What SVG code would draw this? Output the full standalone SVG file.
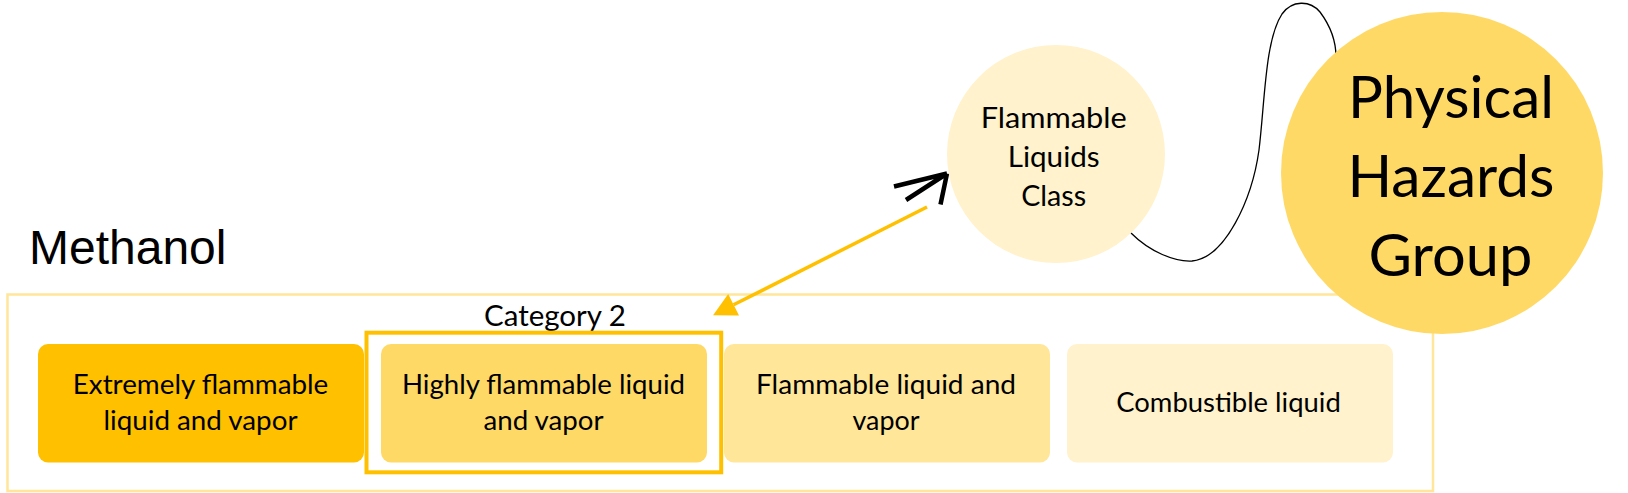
<svg xmlns="http://www.w3.org/2000/svg" width="1628" height="493" viewBox="0 0 1628 493">
  <style>
    .lbl { font-family: Lato, "Open Sans", sans-serif; fill: #000; text-anchor: middle; }
    .box { font-size: 26px; }
    .mid { font-size: 28.5px; }
    .big { font-size: 58px; }
    .title { font-family: "Liberation Sans", Arial, sans-serif; font-size: 48px; fill: #000; }
  </style>
  <defs>
    <marker id="tri" markerUnits="userSpaceOnUse" markerWidth="24" markerHeight="24" viewBox="0 0 23 24" refX="0" refY="12" orient="auto">
      <path d="M0,0 L23,12 L0,24 Z" fill="#FFC000"/>
    </marker>
  </defs>

  <g id="title">
    <text class="title" x="29" y="264">Methanol</text>
  </g>

  <g id="container">
    <rect x="7.5" y="294.5" width="1425.5" height="196.5" fill="none" stroke="#FFE699" stroke-width="2.5"/>
    <text class="lbl mid" x="555" y="326" textLength="142" lengthAdjust="spacingAndGlyphs">Category 2</text>
  </g>

  <g id="extremely">
    <rect x="38" y="344" width="326" height="118.5" rx="10" fill="#FFC000"/>
    <text class="lbl box" x="200.5" y="394" textLength="255.5" lengthAdjust="spacingAndGlyphs">Extremely flammable</text>
    <text class="lbl box" x="200.5" y="430" textLength="194" lengthAdjust="spacingAndGlyphs">liquid and vapor</text>
  </g>

  <g id="highly">
    <rect x="381" y="344" width="326" height="118.5" rx="10" fill="#FFD966"/>
    <text class="lbl box" x="543.5" y="394" textLength="283" lengthAdjust="spacingAndGlyphs">Highly flammable liquid</text>
    <text class="lbl box" x="543.5" y="430" textLength="120" lengthAdjust="spacingAndGlyphs">and vapor</text>
    <rect x="366.5" y="332.7" width="354.7" height="139.6" fill="none" stroke="#FFC000" stroke-width="4"/>
  </g>

  <g id="flammable">
    <rect x="724" y="344" width="326" height="118.5" rx="10" fill="#FFE699"/>
    <text class="lbl box" x="886" y="394" textLength="260" lengthAdjust="spacingAndGlyphs">Flammable liquid and</text>
    <text class="lbl box" x="886" y="430" textLength="67" lengthAdjust="spacingAndGlyphs">vapor</text>
  </g>

  <g id="combustible">
    <rect x="1067" y="344" width="326" height="118.5" rx="10" fill="#FFF2CC"/>
    <text class="lbl box" x="1228.5" y="411.7" textLength="224.5" lengthAdjust="spacingAndGlyphs">Combustible liquid</text>
  </g>

  <g id="connectors">
    <path d="M927,207 L733.6,304.8" fill="none" stroke="#FFC000" stroke-width="3.5" marker-end="url(#tri)"/>
    <path d="M894,186.5 L947,173.5 M906,200 L947,173.5 M940.5,204.5 L947,173.5" fill="none" stroke="#000" stroke-width="4.5"/>
    <path d="M1131,233 C1150,252 1175,262 1192,261 C1225,258 1252,200 1259,150 C1265,100 1265,40 1282,14 C1292,0 1310,0 1320,12 C1332,28 1336,45 1336,57" fill="none" stroke="#000" stroke-width="1.3"/>
  </g>

  <g id="liquids-class">
    <circle cx="1056" cy="154" r="109" fill="#FFF2CC"/>
    <text class="lbl mid" x="1053.7" y="127.7" textLength="146" lengthAdjust="spacingAndGlyphs">Flammable</text>
    <text class="lbl mid" x="1053.7" y="166.7" textLength="92" lengthAdjust="spacingAndGlyphs">Liquids</text>
    <text class="lbl mid" x="1053.7" y="206" textLength="65" lengthAdjust="spacingAndGlyphs">Class</text>
  </g>

  <g id="physical-hazards">
    <circle cx="1442" cy="173" r="161" fill="#FFD966"/>
    <text class="lbl big" x="1451" y="118.3" textLength="206" lengthAdjust="spacingAndGlyphs">Physical</text>
    <text class="lbl big" x="1451" y="196.7" textLength="207" lengthAdjust="spacingAndGlyphs">Hazards</text>
    <text class="lbl big" x="1450.5" y="276" textLength="164" lengthAdjust="spacingAndGlyphs">Group</text>
  </g>
</svg>
